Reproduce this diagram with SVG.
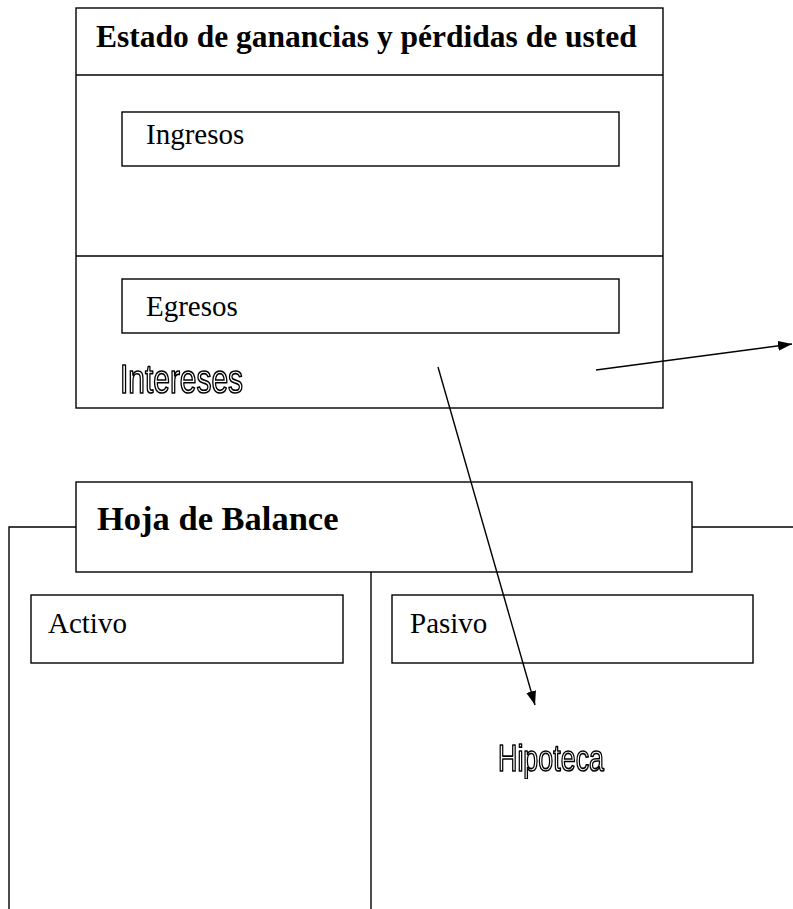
<svg xmlns="http://www.w3.org/2000/svg" width="793" height="909" viewBox="0 0 793 909">
  <defs>
    <marker id="arrow" markerWidth="14" markerHeight="10" refX="14" refY="5" orient="auto" markerUnits="userSpaceOnUse">
      <path d="M0,0 L14,5 L0,10 Z" fill="#000"/>
    </marker>
    <filter id="gray" x="0" y="0" width="1" height="1">
      <feOffset dx="0" dy="0"/>
    </filter>
    <style>
      .box { fill: #fff; stroke: #000; stroke-width: 1.4; }
      .line { fill: none; stroke: #000; stroke-width: 1.4; }
      .title { font-family: "Liberation Serif", "Times New Roman", serif; font-weight: bold; fill: #000; }
      .label { font-family: "Liberation Serif", "Times New Roman", serif; font-size: 29px; fill: #000; }
      .outline { font-family: "Liberation Sans Narrow", "Liberation Sans", Arial, sans-serif; fill: #fff; stroke: #000; stroke-width: 1.7; stroke-linejoin: round; }
      .conn { fill: none; stroke: #000; stroke-width: 1.4; }
    </style>
  </defs>
  <rect width="793" height="909" fill="#fff"/>

  <g id="estado">
    <rect class="box" x="76" y="8" width="587" height="400"/>
    <line class="line" x1="76" y1="75" x2="663" y2="75"/>
    <text class="title" x="96" y="47" font-size="31.5">Estado de ganancias y pérdidas de usted</text>
  </g>

  <g id="ingresos">
    <rect class="box" x="122" y="112" width="497" height="54"/>
    <text class="label" x="146" y="144">Ingresos</text>
  </g>

  <g id="egresos-section">
    <line class="line" x1="76" y1="256" x2="663" y2="256"/>
  </g>

  <g id="egresos">
    <rect class="box" x="122" y="279" width="497" height="54"/>
    <text class="label" x="146" y="316">Egresos</text>
  </g>

  <g id="intereses" filter="url(#gray)">
    <text class="outline" x="120" y="393" font-size="40" textLength="123" lengthAdjust="spacingAndGlyphs">Intereses</text>
  </g>

  <g id="balance">
    <polyline class="line" points="76,527 9,527 9,909"/>
    <polyline class="line" points="692,527 793,527"/>
    <line class="line" x1="371" y1="572" x2="371" y2="909"/>
    <rect class="box" x="76" y="482" width="616" height="90"/>
    <text class="title" x="97" y="530" font-size="34.5">Hoja de Balance</text>
  </g>

  <g id="activo">
    <rect class="box" x="31" y="595" width="312" height="68"/>
    <text class="label" x="48" y="633">Activo</text>
  </g>

  <g id="pasivo">
    <rect class="box" x="392" y="595" width="361" height="68"/>
    <text class="label" x="410" y="633">Pasivo</text>
  </g>

  <g id="hipoteca" filter="url(#gray)">
    <text class="outline" x="498" y="771" font-size="37" textLength="106" lengthAdjust="spacingAndGlyphs">Hipoteca</text>
  </g>

  <g id="connectors">
    <line class="conn" x1="438" y1="367" x2="535" y2="705" marker-end="url(#arrow)"/>
    <line class="conn" x1="596" y1="370" x2="792" y2="344" marker-end="url(#arrow)"/>
  </g>
</svg>
